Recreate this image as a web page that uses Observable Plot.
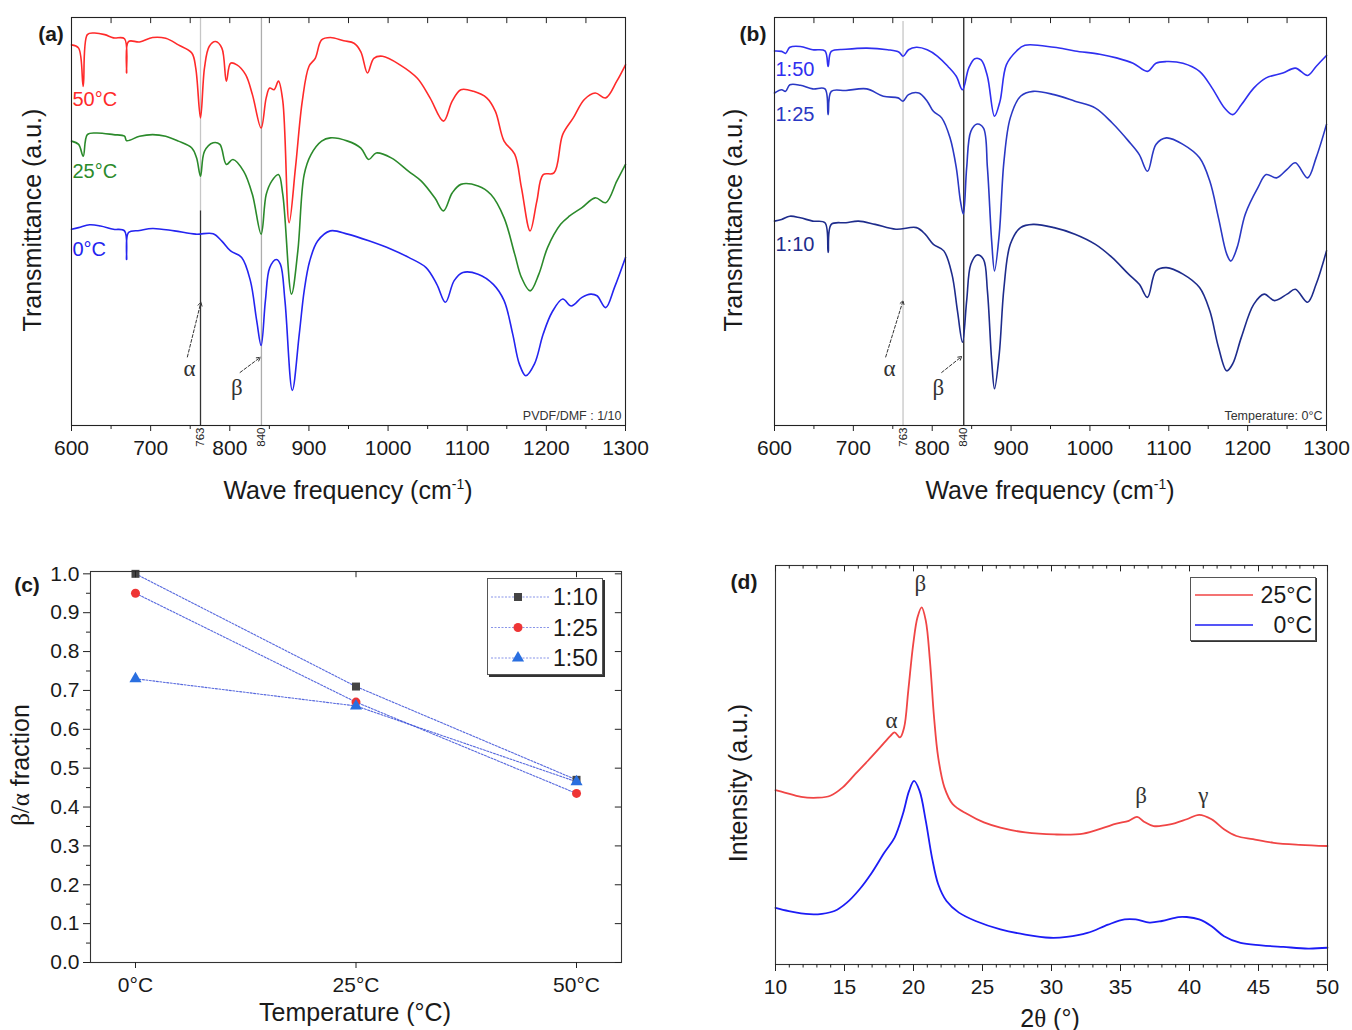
<!DOCTYPE html>
<html><head><meta charset="utf-8">
<script src="https://cdn.jsdelivr.net/npm/d3@7"></script>
<script src="https://cdn.jsdelivr.net/npm/@observablehq/plot@0.6"></script>
<style>
body{margin:0;background:#fff;font-family:"Liberation Sans",Arial,sans-serif;}
#root{position:relative;width:1352px;height:1030px;overflow:hidden;background:#fff;}
.t{position:absolute;white-space:nowrap;color:#1a1a1a;line-height:1;}
.g{font-family:"Liberation Serif","Times New Roman",serif;}
.plot{position:absolute;}
</style></head><body><div id="root"></div>
<script>
// ---------------- DATA ----------------
// (a) FTIR, PVDF/DMF 1/10, three temperatures: [wavenumber cm-1, transmittance a.u. 0-100]
const a_50C = [[600,93.3],[609,92.5],[614.8,83.1],[620,95.8],[628.5,96.2],[642,95.8],[653,95],[667,94.8],[669.6,86.4],[672,94.1],[686,94],[702.5,95.1],[719,94.9],[735,93.3],[752,91.3],[757,87.6],[763,75.4],[768,87.6],[774,92.9],[782,94.1],[790,92.5],[795.7,84.4],[801,88.8],[809,88.4],[820,86],[828.6,81.1],[839.6,72.9],[846,80.3],[850.5,82.7],[856,82.3],[861.5,84.4],[867,79.5],[875,49.7],[883,63.2],[891.6,79.5],[900,88],[908,90],[916,94.5],[927,95.1],[944,94.3],[957,93.7],[965.6,91.6],[974,86.4],[982,90],[993,90.5],[1015,88.4],[1037,85.1],[1053,80.3],[1070,74.6],[1081,79.5],[1092,82.3],[1108,81.9],[1124.6,80.3],[1135.6,77],[1146.6,69.7],[1160,66.5],[1168.5,58.3],[1179.5,47.7],[1188,55],[1196,61.5],[1209.6,61.9],[1220.6,71.3],[1234,75.4],[1248,79.9],[1261.7,81.5],[1275,80.3],[1289,84.4],[1300,88.4]];
const a_25C = [[600,69.7],[609,68.9],[614.8,66],[620,71.3],[631,71.7],[653,71.3],[667,70.9],[669.6,69.8],[686,70.9],[702.5,71.3],[719,70.9],[735,69.7],[752,68],[758,65.6],[763,61.1],[768,67.2],[779,69.3],[787.5,68.9],[795.7,64],[804,65.2],[817.6,62.3],[828.6,56.6],[839.6,46.9],[846,56.6],[853,59.9],[861.5,61.5],[867,56.6],[878,32.2],[886,42.8],[894,61.5],[902.6,66.4],[916,69.7],[927,70.5],[949,69.7],[965.6,68],[975.5,65.2],[985,66.8],[1004,65.6],[1026,62.3],[1042,59.9],[1059,55.8],[1070,52.6],[1081,57],[1092,59.1],[1113.7,58.7],[1130,56.6],[1146.6,50.9],[1160,42],[1168.5,36.3],[1179.5,33],[1190.5,37.1],[1201.5,43.6],[1218,49.3],[1229,51.3],[1245,53.4],[1261.7,55.8],[1275,54.6],[1289,59.9],[1300,64]];
const a_0C = [[600,48.1],[609,48.5],[623,49.2],[636.7,48.9],[653,48.1],[667,47.7],[669.6,40.7],[672,47.3],[686,47.8],[702.5,48.3],[730,47.7],[757,46.9],[779,47],[790,45.2],[801,42.8],[815,41.2],[826,35.5],[834,25.7],[839.6,19.6],[845,30.6],[850.5,38.7],[858.7,40.7],[864,39.5],[869.7,30.6],[879,8.6],[887.8,22.4],[894,33],[901,40.3],[911,45.2],[927,47.7],[949,46.9],[976.6,45.2],[1004,43.2],[1026,41.2],[1048,38.7],[1061.6,34.6],[1072.5,30.2],[1083.5,35.5],[1094.5,37.5],[1113.7,37.1],[1133,34.6],[1146.6,30.6],[1157.5,22.4],[1165.8,15.1],[1174,12.2],[1185,15.1],[1196,22.4],[1207,27.7],[1220.6,31],[1231.5,29.3],[1245,31.4],[1256,32.2],[1264,31.8],[1275,28.9],[1286,33.8],[1300,41.2]];

// (b) FTIR at 0°C, three PVDF/DMF ratios
const b_1_50 = [[600,91.8],[609,91.7],[614,91.2],[619.5,92.7],[632.7,92.9],[648.5,92.1],[664,91.8],[668,88],[672,91.7],[690.7,92.2],[717,92.5],[743.5,92.1],[758,91.5],[763,90.5],[770,92.1],[780,92.7],[793.6,92.1],[806.8,90.5],[820,88],[830.5,85.6],[838.4,82.3],[846.3,87.6],[854,89.9],[862,89.6],[870,85.6],[879,75.8],[886,79.5],[894,88.4],[907,91.8],[917.6,93.2],[954.5,92.7],[981,91.8],[1012.5,91],[1033.6,90.1],[1054.7,88.8],[1073,86.8],[1083.7,88.8],[1097,89.2],[1118,88.8],[1139,86.8],[1155,82.7],[1170.7,77.8],[1181,76.2],[1192,78.6],[1207.7,82.7],[1223.5,85.2],[1244.6,86.4],[1260.5,87.6],[1276,85.8],[1286.8,88],[1300,90.7]];
const b_1_25 = [[600,81.5],[609,82.3],[614,81.9],[619.5,83.5],[632.7,83.4],[648.5,82.5],[664,82.5],[668,76.2],[672,81.9],[690.7,82.1],[717,82.5],[738,80.7],[756.7,80.3],[763,79.5],[770,81.1],[783,81.5],[793.6,79.5],[801.5,77],[812,75.4],[822.6,70.5],[830.5,63.2],[835.8,55],[839.5,51.8],[843.7,63.2],[849,72.1],[857,73.9],[865,72.9],[870,63.2],[875.4,45.2],[879,37.9],[885,46.9],[891,64.8],[899,75.4],[912,80.7],[928,81.9],[954.5,81.1],[981,79.5],[1007,77.8],[1028,74.2],[1049,69.7],[1062.6,66.4],[1073,62.3],[1083.7,68.9],[1097,70.5],[1118,68.9],[1139,65.6],[1152,59.9],[1163,50.9],[1173.5,42],[1178.7,40.3],[1186.6,43.6],[1197,51.8],[1213,58.3],[1223.5,61.5],[1236.7,60.7],[1250,62.8],[1260.5,64.4],[1276,60.7],[1286.8,65.6],[1300,73.8]];
const b_1_10 = [[600,50.1],[609,50.5],[619.5,51.3],[632.7,50.9],[648.5,50.1],[664,49.7],[668,42.4],[672,49.3],[690.7,49.7],[706.5,50.1],[727.6,49.3],[754,48.1],[780,48.5],[791,46.9],[801.5,44.4],[814.7,42.8],[825,37.1],[832,28.1],[838.4,20.4],[843.7,30.6],[849,39.5],[857,41.8],[865,40.7],[870,33],[875.4,15.9],[879,9],[885,17.5],[891,33.8],[899,44.4],[912,48.5],[928,49.3],[954.5,48.5],[981,46.9],[1007,44.4],[1028,41.2],[1049,37.1],[1062.6,34.6],[1073,31.4],[1083.7,37.9],[1097,38.7],[1118,37.1],[1139,33.8],[1152,28.1],[1163,19.2],[1173.5,13.4],[1181,15.1],[1192,21.6],[1207.7,29.7],[1221,32.2],[1234,30.6],[1250,32.2],[1260.5,33.4],[1276,30.2],[1286.8,34.6],[1300,42.8]];

// (c) beta/alpha fraction vs temperature
const temperatures = [0, 25, 50];
const frac_1_10 = [1.00, 0.71, 0.47];
const frac_1_25 = [0.95, 0.67, 0.435];
const frac_1_50 = [0.73, 0.66, 0.465];

// (d) XRD: [2theta deg, intensity a.u. 0-100]
const d_25C = [[10,43.7],[10.66,43.1],[11.86,42],[13.07,41.8],[13.97,42.3],[14.87,44.4],[15.77,47.7],[16.68,51],[17.58,54.4],[18.33,57.3],[18.63,58.2],[19.02,56.9],[19.32,59.4],[19.62,68.6],[19.98,80.3],[20.29,87],[20.59,89.5],[20.89,86.2],[21.19,76.2],[21.49,61.9],[21.79,51.9],[22.24,44.4],[22.84,40.2],[23.9,37.7],[25.1,35.6],[26.3,34.3],[28.1,33.1],[30.2,32.6],[32.3,32.8],[33.8,34.3],[34.7,35.3],[35.6,36],[36.2,37],[36.7,35.8],[37.4,34.7],[38.6,35.1],[39.8,36.4],[40.7,37.5],[41.6,36.4],[42.5,33.9],[43.4,32.2],[44.6,31.4],[46.1,30.5],[48,30],[50,29.7]];
const d_0C = [[10,14.2],[10.96,13.4],[12.47,12.6],[13.37,12.7],[14.27,13.4],[15.17,15.5],[16.08,18.8],[16.98,23],[17.88,28],[18.63,31.8],[19.23,37.7],[19.68,43.5],[20.04,46],[20.44,43.5],[20.89,36],[21.34,26.8],[21.79,20.1],[22.39,15.9],[23.29,13],[24.5,10.9],[26.3,8.8],[28.1,7.5],[29.9,6.7],[31.1,6.9],[32.6,7.9],[34.1,10],[35.3,11.3],[36.1,11.3],[37.1,10.5],[38,10.9],[39.2,11.9],[39.8,11.9],[40.7,11.3],[41.6,9.6],[42.5,7.1],[43.7,5.4],[45.2,4.8],[46.8,4.4],[48.6,4],[50,4.2]];

// ticks and annotation values
const ftirTicks = [600, 700, 800, 900, 1000, 1100, 1200, 1300];
const ftirMinor = [650, 750, 850, 950, 1050, 1150, 1250];
const bandPositions = [763, 840];
const xrdTicks = [10, 15, 20, 25, 30, 35, 40, 45, 50];
const fracTicks = [0, 0.1, 0.2, 0.3, 0.4, 0.5, 0.6, 0.7, 0.8, 0.9, 1.0];
const fracMinor = [0.05, 0.15, 0.25, 0.35, 0.45, 0.55, 0.65, 0.75, 0.85, 0.95];
const seriesLabelsA = [{x:600, y:79.9, t:"50°C"}, {x:600, y:62.3, t:"25°C"}, {x:600, y:43.2, t:"0°C"}];
const seriesLabelsB = [{x:600, y:87.2, t:"1:50"}, {x:600, y:76.2, t:"1:25"}, {x:600, y:44.4, t:"1:10"}];
const greekA = [{x:749, y:14, t:"α"}, {x:809, y:9.4, t:"β"}];
const arrowsA = [{x1:746.4, y1:16.8, x2:763.5, y2:30.2}, {x1:813, y1:13, x2:838.5, y2:16.7}];
const greekB = [{x:746, y:13.9, t:"α"}, {x:807.8, y:9.4, t:"β"}];
const arrowsB = [{x1:741, y1:16.8, x2:763, y2:30.6}, {x1:812, y1:13, x2:837.4, y2:16.9}];
const greekD = [{x:20.5, y:95.4, t:"β"}, {x:18.4, y:61.1, t:"α"}, {x:36.5, y:42.3, t:"β"}, {x:41, y:42.3, t:"γ"}];
const alphaDarkTopA = 52.6;

// ---------------- DRAWING ----------------
const root = document.getElementById("root");
const baseStyle = {fontFamily: "'Liberation Sans', Arial, sans-serif", fontSize: "21px", color: "#1a1a1a", overflow: "visible", background: "transparent"};
const XY = {x: d => d[0], y: d => d[1]};

function put(svg, left, top) {
  svg.classList.add("plot");
  svg.style.left = left + "px"; svg.style.top = top + "px";
  root.appendChild(svg);
}
function txt(html, x, y, {size = 25, rotate = false, bold = false} = {}) {
  const d = document.createElement("div");
  d.className = "t";
  d.innerHTML = html;
  d.style.left = x + "px"; d.style.top = y + "px";
  d.style.fontSize = size + "px";
  if (bold) d.style.fontWeight = "bold";
  d.style.transform = "translate(-50%,-50%)" + (rotate ? " rotate(-90deg)" : "");
  root.appendChild(d);
  return d;
}

function ftirAxes() {
  return [
    Plot.frame({stroke: "#222", strokeWidth: 1.1}),
    Plot.axisX({ticks: ftirTicks, tickSize: 6, tickPadding: 9, tickFormat: d => String(d), label: null, stroke: "#222"}),
    Plot.axisX({ticks: ftirMinor, tickSize: 4, tickFormat: () => "", label: null, stroke: "#222"}),
    Plot.ruleX(ftirTicks.concat(ftirMinor), {y1: 100, y2: 98.5, stroke: "#222"}),
    Plot.text(bandPositions, {x: d => d, text: d => String(d), frameAnchor: "bottom", rotate: -90, textAnchor: "end", lineAnchor: "middle", dy: 2, fontSize: 11.5, fill: "#222"})
  ];
}

// ---- panel (a)
const colA = ["#ff2a2a", "#2b8a2b", "#2424f0"];
const plotA = Plot.plot({
  width: 660, height: 470, marginLeft: 71, marginRight: 35, marginTop: 17, marginBottom: 45,
  style: baseStyle,
  x: {domain: [600, 1300]},
  y: {domain: [0, 100], axis: null},
  marks: [
    Plot.ruleX([bandPositions[0]], {y1: alphaDarkTopA, y2: 100, stroke: "#c6c6c6", strokeWidth: 1.3}),
    Plot.ruleX([bandPositions[0]], {y1: 0, y2: alphaDarkTopA, stroke: "#333", strokeWidth: 1.3}),
    Plot.ruleX([bandPositions[1]], {stroke: "#adadad", strokeWidth: 1.3}),
    Plot.line(a_50C, {...XY, stroke: colA[0], strokeWidth: 1.6, curve: "catmull-rom"}),
    Plot.line(a_25C, {...XY, stroke: colA[1], strokeWidth: 1.6, curve: "catmull-rom"}),
    Plot.line(a_0C, {...XY, stroke: colA[2], strokeWidth: 1.6, curve: "catmull-rom"}),
    Plot.text(seriesLabelsA, {x: "x", y: "y", text: "t", fill: (d, i) => colA[i], textAnchor: "start", dx: 1, fontSize: 20}),
    Plot.arrow(arrowsA, {x1: "x1", y1: "y1", x2: "x2", y2: "y2", stroke: "#333", strokeWidth: 1, strokeDasharray: "3,2", headLength: 6}),
    Plot.text(greekA, {x: "x", y: "y", text: "t", fontFamily: "'Liberation Serif', serif", fontSize: 23, fill: "#333"}),
    Plot.text(["PVDF/DMF : 1/10"], {frameAnchor: "bottom-right", dx: -4, dy: -6, fontSize: 12.5, fill: "#333"}),
    ...ftirAxes()
  ]
});
put(plotA, 0, 0);

// ---- panel (b)
const colB = ["#2f2ff0", "#2a38c4", "#1e2c8c"];
const plotB = Plot.plot({
  width: 652, height: 470, marginLeft: 74, marginRight: 26, marginTop: 17, marginBottom: 45,
  style: baseStyle,
  x: {domain: [600, 1300]},
  y: {domain: [0, 100], axis: null},
  marks: [
    Plot.ruleX([bandPositions[0]], {y1: 0, y2: 99, stroke: "#c6c6c6", strokeWidth: 1.3}),
    Plot.ruleX([bandPositions[1]], {stroke: "#222", strokeWidth: 1.3}),
    Plot.line(b_1_50, {...XY, stroke: colB[0], strokeWidth: 1.6, curve: "catmull-rom"}),
    Plot.line(b_1_25, {...XY, stroke: colB[1], strokeWidth: 1.6, curve: "catmull-rom"}),
    Plot.line(b_1_10, {...XY, stroke: colB[2], strokeWidth: 1.6, curve: "catmull-rom"}),
    Plot.text(seriesLabelsB, {x: "x", y: "y", text: "t", fill: (d, i) => colB[i], textAnchor: "start", dx: 1, fontSize: 20}),
    Plot.arrow(arrowsB, {x1: "x1", y1: "y1", x2: "x2", y2: "y2", stroke: "#333", strokeWidth: 1, strokeDasharray: "3,2", headLength: 6}),
    Plot.text(greekB, {x: "x", y: "y", text: "t", fontFamily: "'Liberation Serif', serif", fontSize: 23, fill: "#333"}),
    Plot.text(["Temperature: 0°C"], {frameAnchor: "bottom-right", dx: -4, dy: -6, fontSize: 12.5, fill: "#333"}),
    ...ftirAxes()
  ]
});
put(plotB, 700, 0);

// ---- panel (c)
const fracSeries = [
  {name: "1:10", values: frac_1_10, symbol: "square", fill: "#444"},
  {name: "1:25", values: frac_1_25, symbol: "circle", fill: "#ee3535"},
  {name: "1:50", values: frac_1_50, symbol: "triangle", fill: "#2a6fe0"}
];
const fracRows = fracSeries.flatMap(s => s.values.map((v, i) => ({name: s.name, t: temperatures[i], v, symbol: s.symbol, fill: s.fill})));
const plotC = Plot.plot({
  width: 660, height: 500, marginLeft: 90, marginRight: 39, marginTop: 41, marginBottom: 68,
  style: baseStyle,
  x: {domain: [-5.1, 55.1]},
  y: {domain: [0, 1.006]},
  marks: [
    Plot.line(fracRows, {x: "t", y: "v", z: "name", stroke: "#3a4fd8", strokeWidth: 1.1, strokeDasharray: "2,1.5", strokeOpacity: 0.85}),
    ...fracSeries.map(s => Plot.dot(fracRows.filter(r => r.name === s.name), {x: "t", y: "v", symbol: () => s.symbol, fill: s.fill, r: 4.5, stroke: null})),
    Plot.frame({stroke: "#333", strokeWidth: 1.1}),
    Plot.axisY({ticks: fracTicks, tickSize: 7, tickPadding: 4, tickFormat: d3.format(".1f"), label: null, stroke: "#222"}),
    Plot.axisY({ticks: fracMinor, tickSize: 4, tickFormat: () => "", label: null, stroke: "#222"}),
    Plot.ruleY(fracTicks, {x1: 55.1, x2: 54.4, stroke: "#222"}),
    Plot.axisX({ticks: temperatures, tickSize: 6, tickPadding: 9, tickFormat: d => d + "°C", label: null, stroke: "#222"}),
    Plot.ruleX(temperatures, {y1: 1.006, y2: 0.99, stroke: "#222"})
  ]
});
put(plotC, 0, 530);

// ---- panel (d)
const colD = ["#f04545", "#1c1cf5"];
const xrdMinor = d3.range(11, 50).filter(v => v % 5 !== 0);
const plotD = Plot.plot({
  width: 652, height: 500, marginLeft: 75, marginRight: 25, marginTop: 35, marginBottom: 66,
  style: baseStyle,
  x: {domain: [10, 50]},
  y: {domain: [0, 100], axis: null},
  marks: [
    Plot.line(d_25C, {...XY, stroke: colD[0], strokeWidth: 1.8, curve: "catmull-rom"}),
    Plot.line(d_0C, {...XY, stroke: colD[1], strokeWidth: 1.8, curve: "catmull-rom"}),
    Plot.text(greekD, {x: "x", y: "y", text: "t", fontFamily: "'Liberation Serif', serif", fontSize: 23, fill: "#333"}),
    Plot.frame({stroke: "#333", strokeWidth: 1.1}),
    Plot.axisX({ticks: xrdTicks, tickSize: 7, tickPadding: 8, tickFormat: d => String(d), label: null, stroke: "#222"}),
    Plot.axisX({ticks: xrdMinor, tickSize: 3.5, tickFormat: () => "", label: null, stroke: "#222"}),
    Plot.ruleX(xrdTicks, {y1: 100, y2: 98.4, stroke: "#222"}),
    Plot.ruleX(xrdMinor, {y1: 100, y2: 99.1, stroke: "#222"})
  ]
});
put(plotD, 700, 530);

// ---- panel letters and axis titles
txt("(a)", 51, 33, {size: 21, bold: true});
txt("(b)", 753, 33, {size: 21, bold: true});
txt("(c)", 27, 584, {size: 21, bold: true});
txt("(d)", 744, 581, {size: 21, bold: true});
txt("Transmittance (a.u.)", 32, 220, {size: 25, rotate: true});
txt("Transmittance (a.u.)", 733, 220, {size: 25, rotate: true});
txt("Wave frequency (cm<sup style='font-size:14px'>-1</sup>)", 348, 490, {size: 25});
txt("Wave frequency (cm<sup style='font-size:14px'>-1</sup>)", 1050, 490, {size: 25});
txt("<span class='g'>β/α</span> fraction", 20, 765, {size: 25, rotate: true});
txt("Temperature (°C)", 355, 1012, {size: 25});
txt("Intensity (a.u.)", 738, 783, {size: 25, rotate: true});
txt("2<span class='g'>θ</span> (°)", 1050, 1018, {size: 25});

// ---- legend (c)
(function () {
  const box = document.createElement("div");
  Object.assign(box.style, {position: "absolute", left: "487px", top: "578px", width: "114px", height: "95px", border: "1px solid #555", boxShadow: "2px 2px 0 #333", background: "#fff"});
  const svg = d3.create("svg").attr("width", 114).attr("height", 95);
  fracSeries.forEach((s, i) => {
    const y = 18 + i * 30.5;
    svg.append("line").attr("x1", 3).attr("x2", 62).attr("y1", y).attr("y2", y).attr("stroke", "#3a4fd8").attr("stroke-dasharray", "2,1.5").attr("stroke-opacity", 0.6);
    svg.append("path").attr("d", d3.symbol(s.symbol === "square" ? d3.symbolSquare : s.symbol === "circle" ? d3.symbolCircle : d3.symbolTriangle, 64)()).attr("transform", `translate(30,${y})`).attr("fill", s.fill);
    svg.append("text").attr("x", 65).attr("y", y).attr("dy", "0.36em").attr("font-size", 23).attr("font-family", "'Liberation Sans', Arial, sans-serif").attr("fill", "#1a1a1a").text(s.name);
  });
  box.appendChild(svg.node());
  root.appendChild(box);
})();

// ---- legend (d)
(function () {
  const names = ["25°C", "0°C"];
  const box = document.createElement("div");
  Object.assign(box.style, {position: "absolute", left: "1190px", top: "577px", width: "124px", height: "62px", border: "1px solid #555", boxShadow: "1px 1px 0 #333", background: "#fff"});
  const svg = d3.create("svg").attr("width", 124).attr("height", 62);
  names.forEach((n, i) => {
    const y = 17 + i * 30;
    svg.append("line").attr("x1", 4).attr("x2", 62).attr("y1", y).attr("y2", y).attr("stroke", colD[i]).attr("stroke-width", 1.6);
    svg.append("text").attr("x", 121).attr("y", y).attr("dy", "0.36em").attr("text-anchor", "end").attr("font-size", 23).attr("font-family", "'Liberation Sans', Arial, sans-serif").attr("fill", "#1a1a1a").text(n);
  });
  box.appendChild(svg.node());
  root.appendChild(box);
})();
</script>
</body></html>
